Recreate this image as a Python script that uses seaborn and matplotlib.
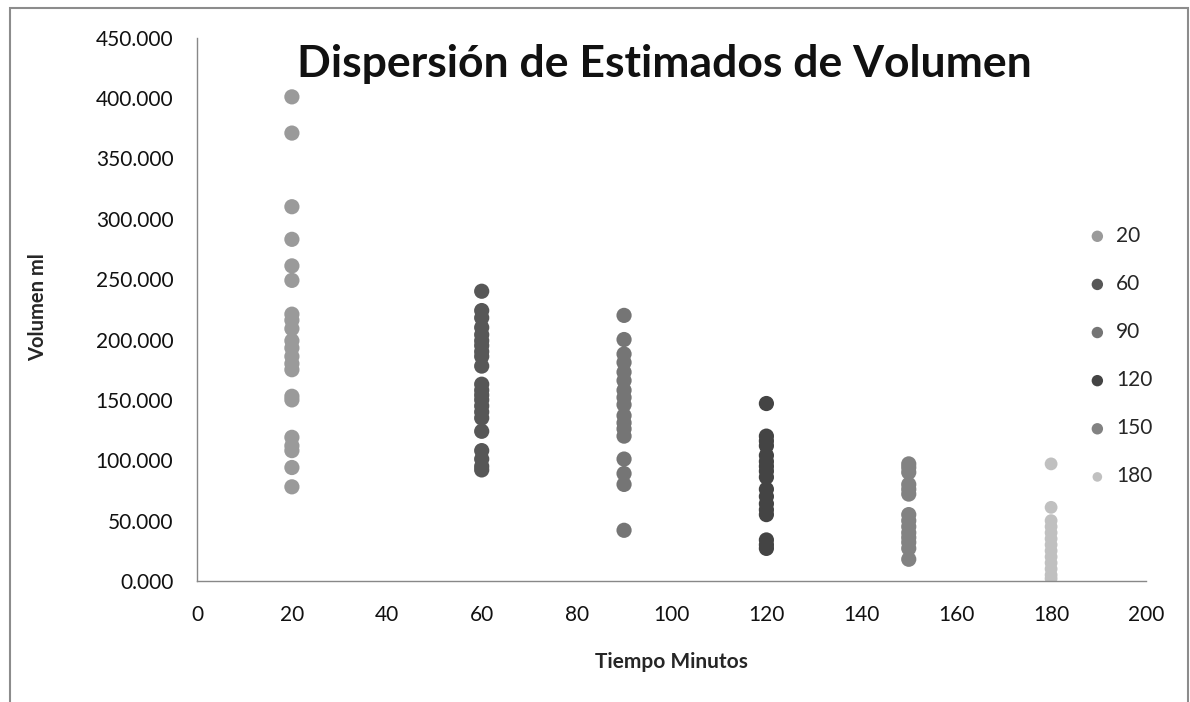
import matplotlib
matplotlib.use("Agg")
import matplotlib.pyplot as plt
import seaborn as sns
import pandas as pd
from matplotlib.patches import Rectangle
from matplotlib.ticker import FuncFormatter, MultipleLocator

# ---- data ----
times = [20, 60, 90, 120, 150, 180]
vol_20 = [401, 371, 310, 283, 261, 249, 221, 216, 209, 199, 193, 186, 180, 175, 153, 150, 119, 112, 108, 94, 78]
vol_60 = [240, 224, 218, 210, 204, 199, 195, 190, 186, 178, 163, 158, 154, 150, 145, 140, 135, 124, 108, 101, 95, 92]
vol_90 = [220, 200, 188, 181, 173, 166, 158, 152, 146, 137, 131, 126, 120, 101, 89, 80, 42]
vol_120 = [147, 120, 116, 112, 104, 99, 95, 91, 86, 76, 70, 64, 59, 55, 34, 30, 27]
vol_150 = [97, 94, 90, 80, 76, 72, 55, 50, 45, 40, 36, 32, 27, 18]
vol_180 = [97, 61, 50, 45, 40, 35, 30, 25, 20, 15, 10, 5, 2]
series = [vol_20, vol_60, vol_90, vol_120, vol_150, vol_180]
colors = ["#9a9a9a", "#575757", "#757575", "#444444", "#828282", "#c0c0c0"]
sizes = [120, 120, 120, 120, 120, 85]

title = "Dispersión de Estimados de Volumen"
xlabel = "Tiempo Minutos"
ylabel = "Volumen ml"

rows = []
for t, vals in zip(times, series):
    for v in vals:
        rows.append({"tiempo": t, "volumen": v, "grupo": str(t)})
df = pd.DataFrame(rows)

sns.set_theme(style="white")
plt.rcParams["font.family"] = ["Lato", "DejaVu Sans"]

fig = plt.figure(figsize=(11.9, 7.02), dpi=100)
ax = fig.add_axes([197 / 1190, 1 - 581 / 702, (1146 - 197) / 1190, (581 - 37.7) / 702])

for t, c, s in zip(times, colors, sizes):
    sub = df[df["grupo"] == str(t)]
    sns.scatterplot(data=sub, x="tiempo", y="volumen", color=c, s=s,
                    edgecolor="none", linewidth=0, ax=ax, label=str(t))

ax.set_xlim(0, 200)
ax.set_ylim(0, 450)
ax.xaxis.set_major_locator(MultipleLocator(20))
ax.yaxis.set_major_locator(MultipleLocator(50))
ax.yaxis.set_major_formatter(FuncFormatter(lambda v, p: f"{v:.3f}"))
for side in ["top", "right"]:
    ax.spines[side].set_visible(False)
for side in ["left", "bottom"]:
    ax.spines[side].set_color("#888888")
    ax.spines[side].set_linewidth(1.0)
ax.tick_params(axis="both", which="major", direction="out", length=6, width=1,
               color="#888888", labelsize=15, labelcolor="#111111")
ax.tick_params(axis="y", pad=11)
ax.tick_params(axis="x", pad=11)
ax.set_xlabel(xlabel, fontsize=15, fontweight="bold")
ax.set_ylabel(ylabel, fontsize=14.5, fontweight="bold")
ax.xaxis.set_label_coords(0.5, -0.1308)
ax.yaxis.set_label_coords(-0.157, 0.505)

leg = ax.legend(loc="center left", bbox_to_anchor=(0.918, 0.414), frameon=False,
                fontsize=15, labelspacing=1.35, handletextpad=-0.1,
                markerscale=0.75, borderaxespad=0)

fig.text(664 / 1190, 1 - 64 / 702, title, ha="center", va="center",
         fontsize=32, fontweight="bold", color="#111111")

# outer chart border
fig.add_artist(Rectangle((10 / 1190, -0.05), (1188 - 10) / 1190, 1.05 - 8 / 702,
                         transform=fig.transFigure, fill=False,
                         edgecolor="#8c8c8c", linewidth=1.5))

fig.savefig("out.png", dpi=100)
